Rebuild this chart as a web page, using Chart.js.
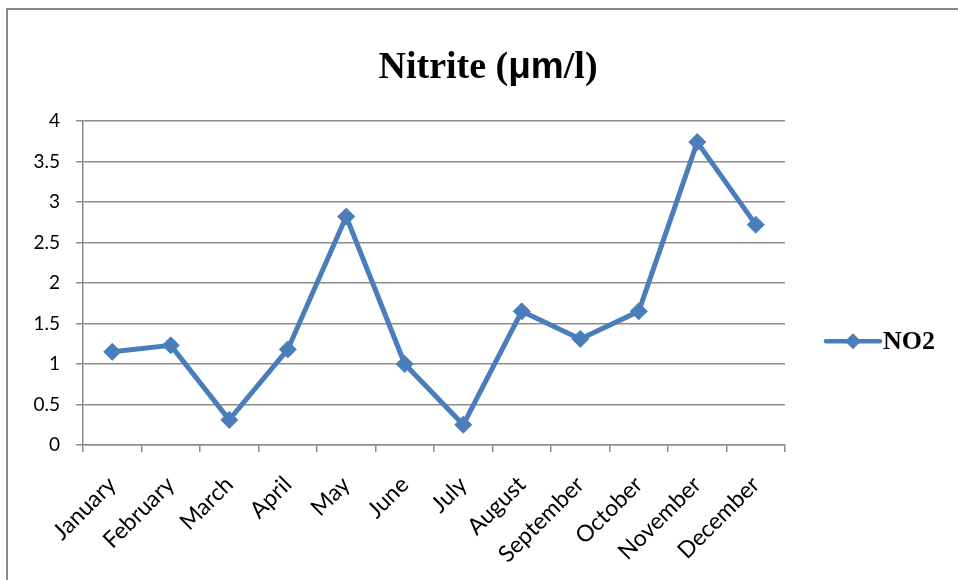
<!DOCTYPE html>
<html>
<head>
<meta charset="utf-8">
<script src="https://cdn.jsdelivr.net/npm/chart.js@4.4.1/dist/chart.umd.min.js"></script>
<style>
  html, body { margin: 0; padding: 0; background: #fff; }
  #wrap { position: relative; width: 958px; height: 580px; }
</style>
</head>
<body>
<div id="wrap"><canvas id="chart" width="958" height="580"></canvas></div>
<script>
// Monthly nitrite readings
const months = ['January', 'February', 'March', 'April', 'May', 'June',
                'July', 'August', 'September', 'October', 'November', 'December'];
const no2Values = [1.15, 1.23, 0.31, 1.18, 2.82, 1.0, 0.25, 1.65, 1.31, 1.65, 3.74, 2.72];
const seriesName = 'NO2';
const titleParts = [
  { text: 'Nitrite (', font: 'bold 38px "Liberation Serif"' },
  { text: 'μm', font: 'bold 37px "Liberation Sans"' },
  { text: '/l)', font: 'bold 38px "Liberation Serif"' }
];
const yTicks = { min: 0, max: 4, step: 0.5 };

const BLUE = '#4a7ebb';
const GRID = '#8c8c8c';
const TICK_FONT = 'Lato';

// Outer frame, title and legend drawn on the canvas
const decorations = {
  id: 'decorations',
  beforeDraw(chart) {
    const ctx = chart.ctx;
    ctx.save();
    ctx.fillStyle = '#fff';
    ctx.fillRect(0, 0, chart.width, chart.height);
    ctx.strokeStyle = '#888';
    ctx.lineWidth = 2;
    ctx.beginPath();
    ctx.moveTo(7, chart.height);
    ctx.lineTo(7, 9);
    ctx.lineTo(chart.width, 9);
    ctx.stroke();
    ctx.restore();
  },
  afterDraw(chart) {
    const ctx = chart.ctx;
    const area = chart.chartArea;
    ctx.save();
    // title
    let total = 0;
    titleParts.forEach(p => { ctx.font = p.font; p.w = ctx.measureText(p.text).width; total += p.w; });
    let x = (area.left + area.right) / 2 + 54 - total / 2;
    ctx.fillStyle = '#000';
    ctx.textBaseline = 'alphabetic';
    ctx.textAlign = 'left';
    titleParts.forEach(p => { ctx.font = p.font; ctx.fillText(p.text, x, 78); x += p.w; });

    // legend
    const ly = area.top + (area.bottom - area.top) * 0.68;
    const lx = area.right + 41;
    ctx.strokeStyle = BLUE;
    ctx.lineWidth = 4.5;
    ctx.lineCap = 'round';
    ctx.beginPath();
    ctx.moveTo(lx, ly);
    ctx.lineTo(lx + 54, ly);
    ctx.stroke();
    ctx.fillStyle = BLUE;
    ctx.beginPath();
    const r = 8;
    const cx = lx + 27;
    ctx.moveTo(cx, ly - r);
    ctx.lineTo(cx + r, ly);
    ctx.lineTo(cx, ly + r);
    ctx.lineTo(cx - r, ly);
    ctx.closePath();
    ctx.fill();
    ctx.fillStyle = '#000';
    ctx.font = 'bold 26px "Liberation Serif"';
    ctx.textBaseline = 'middle';
    ctx.fillText(seriesName, lx + 57, ly + 1);
    ctx.restore();
  }
};

new Chart(document.getElementById('chart'), {
  type: 'line',
  data: {
    labels: months,
    datasets: [{
      label: seriesName,
      data: no2Values,
      borderColor: BLUE,
      backgroundColor: BLUE,
      borderWidth: 5,
      pointStyle: 'rectRot',
      pointRadius: 8.5,
      pointBorderWidth: 1,
      pointBackgroundColor: BLUE,
      pointBorderColor: BLUE,
      tension: 0,
      clip: false
    }]
  },
  options: {
    responsive: false,
    animation: false,
    events: [],
    layout: { padding: { top: 121, right: 173, bottom: 0, left: 0 } },
    plugins: {
      legend: { display: false },
      title: { display: false },
      tooltip: { enabled: false }
    },
    scales: {
      x: {
        type: 'category',
        offset: true,
        grid: {
          offset: true,
          drawOnChartArea: false,
          drawTicks: true,
          tickLength: 7,
          color: GRID,
          lineWidth: 1.5
        },
        border: { color: GRID, width: 1.5 },
        ticks: {
          autoSkip: false,
          minRotation: 45,
          maxRotation: 45,
          padding: 19,
          color: '#000',
          font: { family: TICK_FONT, size: 23 }
        },
        afterFit(scale) { scale.height = 135; }
      },
      y: {
        min: yTicks.min,
        max: yTicks.max,
        grid: {
          color: GRID,
          lineWidth: 1.5,
          drawTicks: true,
          tickLength: 7
        },
        border: { color: GRID, width: 1.5 },
        ticks: {
          stepSize: yTicks.step,
          padding: 16,
          color: '#000',
          font: { family: TICK_FONT, size: 19 },
          callback: v => String(Number(v.toFixed(2)))
        },
        afterFit(scale) { scale.width = 83; }
      }
    }
  },
  plugins: [decorations]
});
</script>
</body>
</html>
